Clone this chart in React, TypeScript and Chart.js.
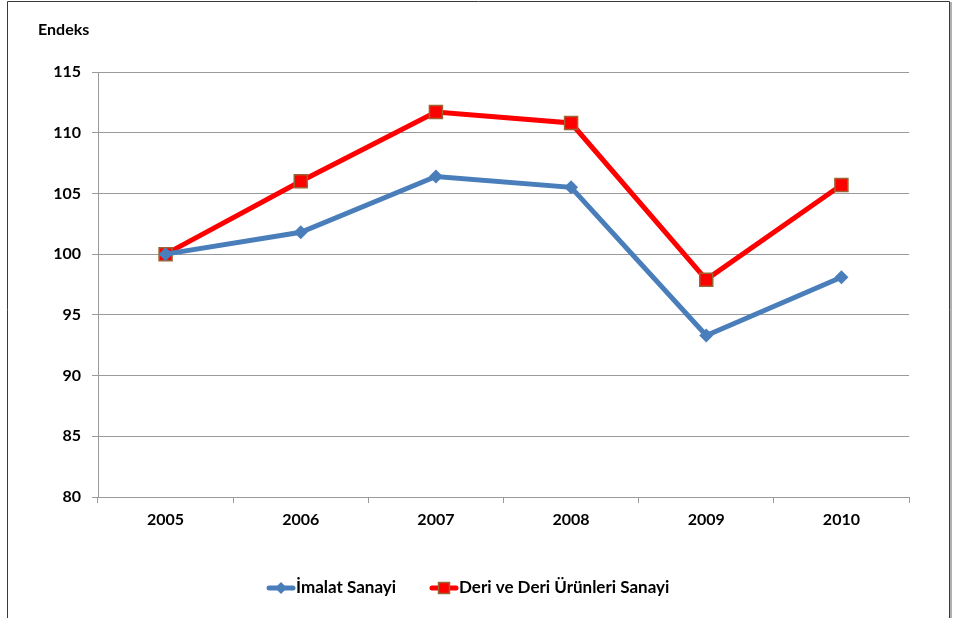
import React, { useEffect, useRef } from "react";
import { Chart, registerables } from "chart.js";

Chart.register(...registerables);

const years = ["2005", "2006", "2007", "2008", "2009", "2010"];
const imalat = [100, 101.8, 106.4, 105.5, 93.3, 98.1];
const deri = [100, 106.0, 111.7, 110.8, 97.9, 105.7];
const seriesNames = ["İmalat Sanayi", "Deri ve Deri Ürünleri Sanayi"];
const yTitle = "Endeks";

const FONT = "Lato, 'Open Sans', sans-serif";
const BLUE = "#4a7ebb";
const RED = "#ff0000";
const SQ_BORDER = "#9c6432";

export default function App() {
  const ref = useRef<HTMLCanvasElement | null>(null);
  useEffect(() => {
    document.body.style.margin = "0";
    const canvas = ref.current!;
    const framePlugin = {
      id: "frame",
      beforeDraw(chart: any) {
        const ctx = chart.ctx;
        ctx.save();
        ctx.fillStyle = "#ffffff";
        ctx.fillRect(0, 0, chart.width, chart.height);
        ctx.strokeStyle = "#b0b0b0";
        ctx.lineWidth = 2;
        ctx.beginPath();
        ctx.moveTo(951, 2);
        ctx.lineTo(951, chart.height);
        ctx.stroke();
        ctx.strokeStyle = "#3a3a3a";
        ctx.lineWidth = 1;
        ctx.beginPath();
        ctx.moveTo(7.5, chart.height);
        ctx.lineTo(7.5, 1.5);
        ctx.lineTo(949.5, 1.5);
        ctx.lineTo(949.5, chart.height);
        ctx.stroke();
        ctx.restore();
      },
      afterDraw(chart: any) {
        const ctx = chart.ctx;
        ctx.save();
        ctx.fillStyle = "#000";
        ctx.font = `bold 16px ${FONT}`;
        ctx.textBaseline = "middle";
        ctx.textAlign = "left";
        ctx.fillText(yTitle, 38, 30);
        // legend
        const ly = 588;
        const items = [
          { x: 267, color: BLUE, style: "diamond", label: seriesNames[0] },
          { x: 430, color: RED, style: "square", label: seriesNames[1] },
        ];
        for (const it of items) {
          ctx.strokeStyle = it.color;
          ctx.lineWidth = 5;
          ctx.lineCap = "round";
          ctx.beginPath();
          ctx.moveTo(it.x + 2, ly);
          ctx.lineTo(it.x + 26, ly);
          ctx.stroke();
          const cx = it.x + 14;
          if (it.style === "diamond") {
            ctx.fillStyle = it.color;
            ctx.beginPath();
            ctx.moveTo(cx, ly - 6);
            ctx.lineTo(cx + 6, ly);
            ctx.lineTo(cx, ly + 6);
            ctx.lineTo(cx - 6, ly);
            ctx.closePath();
            ctx.fill();
          } else {
            ctx.fillStyle = RED;
            ctx.strokeStyle = SQ_BORDER;
            ctx.lineWidth = 1.5;
            ctx.fillRect(cx - 5.5, ly - 5.5, 11, 11);
            ctx.strokeRect(cx - 5.5, ly - 5.5, 11, 11);
          }
          ctx.fillStyle = "#000";
          ctx.font = `bold 17px ${FONT}`;
          ctx.fillText(it.label, it.x + 29, ly);
        }
        ctx.restore();
      },
    };
    const chart = new Chart(canvas, {
      type: "line",
      data: {
        labels: years,
        datasets: [
          {
            label: seriesNames[0],
            data: imalat,
            borderColor: BLUE,
            backgroundColor: BLUE,
            borderWidth: 5,
            pointStyle: "rectRot",
            pointRadius: 7,
            pointBorderWidth: 0,
            pointBackgroundColor: BLUE,
          },
          {
            label: seriesNames[1],
            data: deri,
            borderColor: RED,
            backgroundColor: RED,
            borderWidth: 5,
            pointStyle: "rect",
            pointRadius: 9.2,
            pointBorderWidth: 1.5,
            pointBorderColor: SQ_BORDER,
            pointBackgroundColor: RED,
          },
        ],
      },
      options: {
        animation: false,
        responsive: false,
        maintainAspectRatio: false,
        layout: { padding: { left: 0, right: 45, top: 72, bottom: 81 } },
        plugins: { legend: { display: false }, tooltip: { enabled: false } },
        scales: {
          x: {
            offset: true,
            afterFit: (s: any) => {
              s.height = 40;
            },
            grid: {
              offset: true,
              drawOnChartArea: false,
              drawTicks: true,
              tickLength: 6,
              color: "#9a9a9a",
            },
            border: { color: "#9a9a9a", width: 1 },
            ticks: {
              color: "#000",
              font: { family: FONT, size: 16, weight: "bold" },
              padding: 7,
            },
          },
          y: {
            min: 80,
            max: 115,
            afterFit: (s: any) => {
              s.width = 98;
            },
            grid: { color: "#9a9a9a", tickLength: 6, drawTicks: true },
            border: { color: "#9a9a9a", width: 1 },
            ticks: {
              stepSize: 5,
              color: "#000",
              font: { family: FONT, size: 16, weight: "bold" },
              padding: 11,
            },
          },
        },
      },
      plugins: [framePlugin],
    });
    return () => chart.destroy();
  }, []);
  return (
    <div style={{ position: "fixed", left: 0, top: 0, width: 954, height: 618 }}>
      <canvas ref={ref} width={954} height={618} style={{ width: 954, height: 618, display: "block" }} />
    </div>
  );
}
